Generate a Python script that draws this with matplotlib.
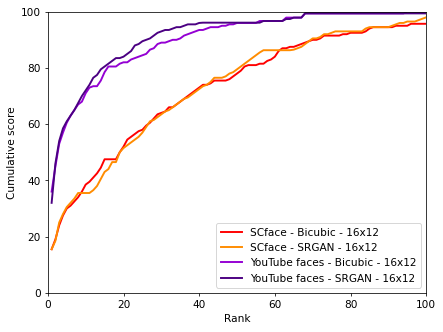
import matplotlib
matplotlib.use("Agg")
import matplotlib.pyplot as plt
import numpy as np

ranks = list(range(1, 101))

scface_bicubic = [
    15.5, 19, 24, 27.5, 30, 31, 32.5, 34, 36, 38.5,
    39.5, 41, 42.5, 44.5, 47.5, 47.5, 47.5, 47.5, 50, 52,
    54.5, 55.5, 56.5, 57.5, 58, 59.5, 60.5, 62, 63.5, 64,
    64.5, 66, 66, 67, 68, 69, 70, 71, 72, 73,
    74, 74, 74.5, 75.5, 75.5, 75.5, 75.5, 76, 77, 78,
    79, 80.5, 81, 81, 81, 81.5, 81.5, 82.5, 83, 84,
    86, 87, 87, 87.5, 87.5, 88, 88.5, 89, 89.5, 90,
    90, 90.5, 91.5, 91.5, 91.5, 91.5, 91.5, 92, 92, 92.5,
    92.5, 92.5, 92.5, 93, 94, 94.5, 94.5, 94.5, 94.5, 94.5,
    94.5, 95, 95, 95, 95, 95.7, 95.7, 95.7, 95.7, 95.7,
]

scface_srgan = [
    15.5, 18.5, 25, 28, 30.5, 32, 33.5, 35.5, 35.5, 35.5,
    35.5, 36.5, 38, 40.5, 43, 44, 46.5, 46.5, 50, 51.5,
    52.5, 53.5, 54.5, 55.5, 57, 59, 61, 61.5, 62.5, 63.5,
    64.5, 65, 66, 67, 68, 69, 69.5, 70.5, 71.5, 72.5,
    73.5, 74, 75, 76.5, 76.5, 76.5, 77, 78, 78.5, 79.5,
    80.5, 81.5, 82.5, 83.5, 84.5, 85.5, 86.3, 86.3, 86.3, 86.3,
    86.3, 86.3, 86.3, 86.3, 86.5, 87, 87.5, 88.5, 89.5, 90.5,
    90.5, 91, 92, 92, 92.5, 93, 93, 93, 93, 93,
    93, 93, 93, 94, 94.5, 94.5, 94.5, 94.5, 94.5, 94.5,
    95, 95.5, 96, 96, 96.5, 96.5, 96.5, 97, 97.5, 98,
]

youtube_bicubic = [
    36, 45, 53, 57, 60.5, 63, 65, 67, 68, 71,
    73, 73.5, 73.5, 75.5, 78.5, 80.5, 80.5, 80.5, 81.5, 82,
    82, 83, 83.5, 84, 84.5, 85, 86.5, 87, 88.5, 89,
    89, 89.5, 90, 90, 90.5, 91.5, 92, 92.5, 93, 93.5,
    93.5, 94, 94.5, 94.5, 94.5, 95, 95, 95.5, 95.5, 96,
    96, 96, 96, 96, 96, 96.7, 96.7, 96.7, 96.7, 96.7,
    96.7, 96.7, 97.9, 97.9, 97.9, 97.9, 97.9, 99.4, 99.4, 99.4,
    99.4, 99.4, 99.4, 99.4, 99.4, 99.4, 99.4, 99.4, 99.4, 99.4,
    99.4, 99.4, 99.4, 99.4, 99.4, 99.4, 99.4, 99.4, 99.4, 99.4,
    99.4, 99.4, 99.4, 99.4, 100, 100, 100, 100, 100, 100,
]

youtube_srgan = [
    32, 46, 54, 58.5, 61, 63, 65, 67.5, 70, 72,
    74, 76.5, 77.5, 79.5, 80.5, 81.5, 82.5, 83.5, 83.5, 84,
    85, 86, 88, 88.5, 89.5, 90, 90.5, 91.5, 92.5, 93,
    93.5, 93.5, 94, 94.5, 94.5, 95, 95.5, 95.5, 95.5, 96,
    96.1, 96.1, 96.1, 96.1, 96.1, 96.1, 96.1, 96.1, 96.1, 96.1,
    96.1, 96.1, 96.1, 96.1, 96.1, 96.1, 96.7, 96.7, 96.7, 96.7,
    96.7, 96.7, 97.4, 97.4, 97.9, 97.9, 97.9, 99.4, 99.4, 99.4,
    99.4, 99.4, 99.4, 99.4, 99.4, 99.4, 99.4, 99.4, 99.4, 99.4,
    99.4, 99.4, 99.4, 99.4, 99.4, 99.4, 99.4, 99.4, 99.4, 99.4,
    99.4, 99.4, 99.4, 99.4, 99.4, 99.4, 99.4, 99.4, 99.4, 99.4,
]

labels = [
    "SCface - Bicubic - 16x12",
    "SCface - SRGAN - 16x12",
    "YouTube faces - Bicubic - 16x12",
    "YouTube faces - SRGAN - 16x12",
]
colors = ["red", "darkorange", "darkviolet", "indigo"]

plt.rcParams["font.family"] = ["DejaVu Sans"]
plt.rcParams["font.size"] = 11

fig = plt.figure(figsize=(6.4, 4.8), dpi=69.22)
ax = fig.add_subplot(111)
fig.subplots_adjust(left=0.108, right=0.962, top=0.964, bottom=0.118)

for vals, lab, col in zip([scface_bicubic, scface_srgan, youtube_bicubic, youtube_srgan], labels, colors):
    ax.plot(ranks, vals, color=col, linewidth=2, label=lab)

ax.set_xlim(0, 100)
ax.set_ylim(0, 100)
ax.set_xlabel("Rank")
ax.set_ylabel("Cumulative score")
ax.legend(loc="lower right")

fig.savefig("out.png", dpi=69.22)
